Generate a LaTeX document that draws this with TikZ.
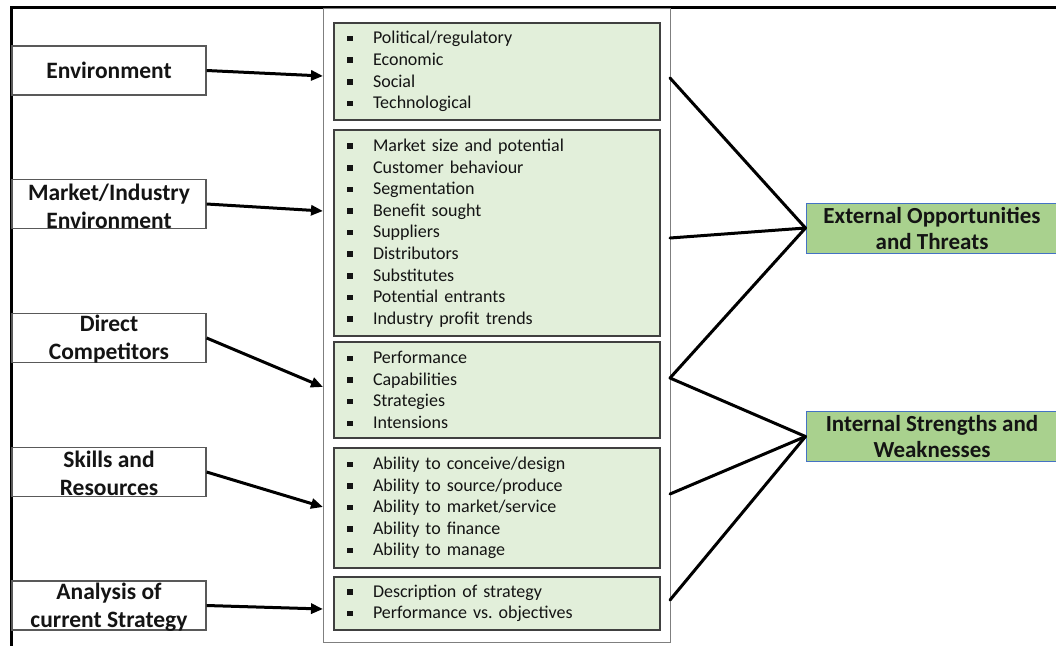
\documentclass[tikz,border=0pt]{standalone}
\usepackage{fontspec}
\setmainfont{Carlito}
\usetikzlibrary{arrows.meta}
\definecolor{gfill}{HTML}{E2EFDA}
\definecolor{gborder}{HTML}{404040}
\definecolor{bigborder}{HTML}{7F7F7F}
\definecolor{lborder}{HTML}{595959}
\definecolor{rfill}{HTML}{A9D18E}
\definecolor{rborder}{HTML}{4472C4}
\definecolor{txt}{HTML}{141414}
\newcommand\bul{\makebox[27pt][l]{\hspace{1pt}\raisebox{2.5pt}{\rule{5.5pt}{5.5pt}}}}
\frenchspacing
\begin{document}
\begin{tikzpicture}[x=1pt,y=-1pt,
  bigbox/.style={draw=bigborder,line width=1pt,fill=white,minimum width=347pt,minimum height=634pt,inner sep=0pt},
  gbox/.style={draw=gborder,line width=1.4pt,fill=gfill,minimum width=326pt,text width=302pt,inner xsep=12pt,inner ysep=2pt,align=left,text=txt,font=\fontsize{18}{21.6}\selectfont},
  lbox/.style={draw=lborder,line width=1.3pt,fill=white,minimum width=194pt,minimum height=49pt,inner sep=0pt},
  ltext/.style={align=center,text=txt,inner sep=0pt,font=\bfseries\fontsize{23.5}{28}\selectfont},
  rbox/.style={draw=rborder,line width=1pt,fill=rfill,minimum width=252pt,minimum height=50pt,inner sep=0pt},
  rtext/.style={align=center,text=txt,inner sep=0pt,font=\bfseries\fontsize{23}{26}\selectfont},
  arr/.style={line width=3pt,-{Triangle[length=12pt,width=10pt]}},
  rline/.style={line width=3pt,line join=round,line cap=round}]
\useasboundingbox (0,0) rectangle (1056,646);
% frame
\draw[line width=3pt] (10,7) -- (1056,7);
\draw[line width=3pt] (11.5,7) -- (11.5,646);
% central box
\node[bigbox] (big) at (496.5,325) {};
\node[gbox,minimum height=97pt] (g1) at (497,71.5) {\bul Political/regulatory\\\bul Economic\\\bul Social\\\bul Technological};
\node[gbox,minimum height=206pt] (g2) at (497,233) {\bul Market size and potential\\\bul Customer behaviour\\\bul Segmentation\\\bul Benefit sought\\\bul Suppliers\\\bul Distributors\\\bul Substitutes\\\bul Potential entrants\\\bul Industry profit trends};
\node[gbox,minimum height=96pt] (g3) at (497,390) {\bul Performance\\\bul Capabilities\\\bul Strategies\\\bul Intensions};
\node[gbox,minimum height=120pt] (g4) at (497,508) {\bul Ability to conceive/design\\\bul Ability to source/produce\\\bul Ability to market/service\\\bul Ability to finance\\\bul Ability to manage};
\node[gbox,minimum height=53pt] (g5) at (497,603.5) {\bul Description of strategy\\\bul Performance vs. objectives};
% left boxes
\node[lbox] (env) at (109,70.5) {};
\node[ltext] (envt) at (env.center) {Environment};
\node[lbox] (mkt) at (109,204) {};
\node[ltext] (mktt) at (109,206) {Market/Industry\\Environment};
\node[lbox] (dir) at (109,338) {};
\node[ltext] (dirt) at (109,339) {Direct\\Competitors};
\node[lbox] (skl) at (109,472) {};
\node[ltext] (sklt) at (109,473) {Skills and\\Resources};
\node[lbox] (ana) at (109,605.5) {};
\node[ltext] (anat) at (109,607) {Analysis of\\current Strategy};
% right boxes
\node[rbox] (ext) at (932,228) {};
\node[rtext] (extt) at (ext.center) {External Opportunities\\and Threats};
\node[rbox] (int) at (932,436.5) {};
\node[rtext] (intt) at (int.center) {Internal Strengths and\\Weaknesses};
% arrow targets on the central box
\coordinate (a1) at (323,76);
\coordinate (a2) at (323,211);
\coordinate (a3) at (323,387);
\coordinate (a4) at (323,507);
\coordinate (a5) at (323,609);
\draw[arr] (env.east) -- (a1);
\draw[arr] (mkt.east) -- (a2);
\draw[arr] (dir.east) -- (a3);
\draw[arr] (skl.east) -- (a4);
\draw[arr] (ana.east) -- (a5);
% right connectors
\coordinate (b1) at (670,78);
\coordinate (b2) at (670,238);
\coordinate (b3) at (670,378);
\coordinate (b4) at (670,494);
\coordinate (b5) at (670,600);
\draw[rline] (b1) -- (ext.west);
\draw[rline] (b2) -- (ext.west);
\draw[rline] (ext.west) -- (b3) -- (int.west);
\draw[rline] (b4) -- (int.west);
\draw[rline] (b5) -- (int.west);
\end{tikzpicture}
\end{document}
